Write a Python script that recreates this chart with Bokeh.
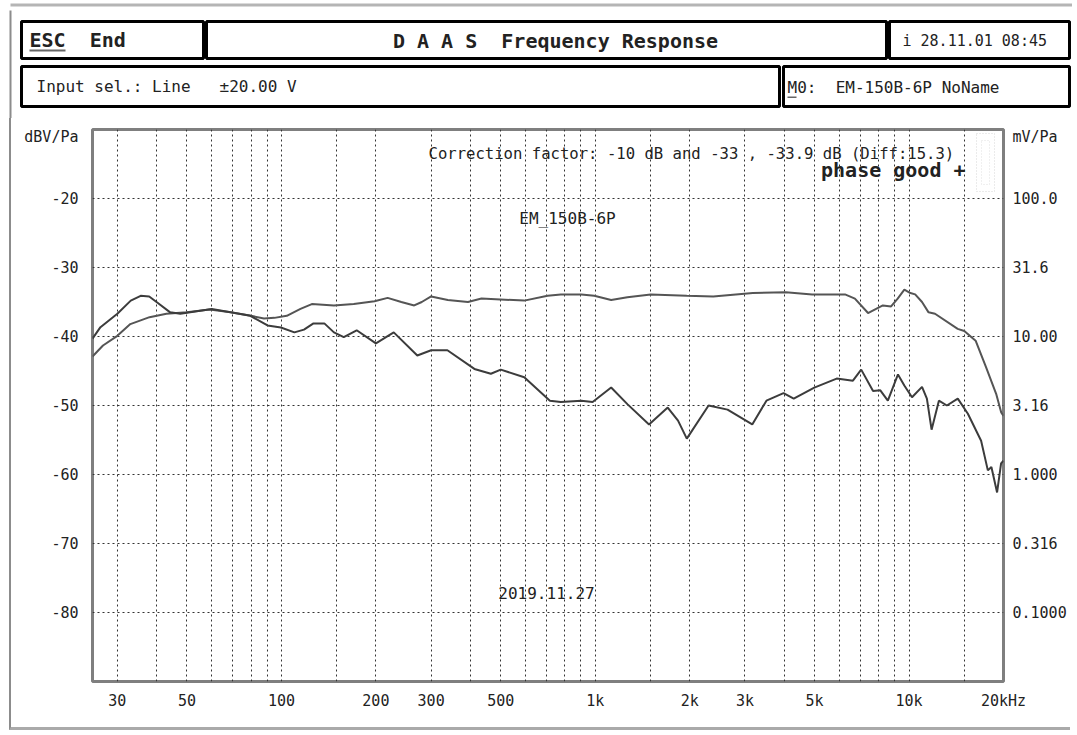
from bokeh.plotting import figure
from bokeh.layouts import column, row
from bokeh.models import FixedTicker, LinearAxis, Label, BoxAnnotation, Range1d
from bokeh.core.properties import value
from bokeh.embed import file_html
from bokeh.resources import INLINE

# ---------------- data ----------------
upper_freq = [25, 27, 30, 33, 38, 43, 50, 59, 69, 80, 88, 95, 104, 115, 125, 147, 170, 198,
              218, 241, 265, 280, 300, 339, 393, 434, 594, 705, 777, 903, 993, 1124, 1266,
              1502, 1958, 2377, 3178, 4048, 4911, 6251, 6722, 7403, 7770, 8253, 8766, 9200,
              9662, 10100, 10460, 11000, 11540, 12100, 14290, 15000, 16300, 17580, 18950,
              19670, 20000]
upper_db = [-42.9, -41.3, -39.9, -38.2, -37.2, -36.7, -36.5, -36.1, -36.5, -37.0, -37.4, -37.3,
            -37.0, -36.0, -35.3, -35.5, -35.3, -34.9, -34.4, -35.0, -35.5, -35.0, -34.2, -34.7,
            -35.0, -34.5, -34.8, -34.1, -33.9, -33.9, -34.1, -34.7, -34.3, -33.9, -34.1, -34.2,
            -33.7, -33.6, -33.9, -33.9, -34.5, -36.6, -36.1, -35.5, -35.65, -34.5, -33.2, -33.7,
            -33.9, -35.0, -36.5, -36.7, -38.9, -39.2, -40.6, -44.4, -48.3, -51.0, -51.5]

lower_freq = [25, 26.5, 30, 33.1, 35.6, 37.9, 40, 44.2, 47.6, 60, 68.8, 79.6, 90.3, 99.6, 110,
              118, 126.5, 137, 147, 158, 173.7, 200, 228, 271, 300, 338, 412, 465, 500, 594,
              717, 777, 903, 981, 1124, 1266, 1484, 1702, 1836, 1958, 2297, 2640, 3165, 3512,
              3981, 4291, 4990, 5880, 6625, 7040, 7680, 8100, 8560, 9220, 9660, 10220, 11000,
              11400, 11800, 12450, 13200, 14300, 15400, 16970, 17830, 18300, 19080, 19650, 20000]
lower_db = [-40.3, -38.65, -36.7, -34.8, -34.1, -34.2, -35.0, -36.5, -36.7, -36.0, -36.5, -37.0,
            -38.4, -38.7, -39.4, -39.0, -38.1, -38.1, -39.4, -40.1, -39.1, -41.0, -39.4, -42.75,
            -42.0, -42.0, -44.7, -45.4, -44.8, -45.9, -49.3, -49.5, -49.3, -49.5, -47.4, -49.8,
            -52.75, -50.3, -52.2, -54.8, -50.0, -50.6, -52.75, -49.3, -48.2, -49.0, -47.4, -46.1,
            -46.4, -44.8, -47.9, -47.8, -49.3, -45.5, -47.1, -48.8, -47.3, -49.0, -53.5, -49.3,
            -50.0, -49.0, -51.2, -55.1, -59.4, -58.9, -62.6, -58.4, -58.0]

x_tick_freqs = [30, 50, 100, 200, 300, 500, 1000, 2000, 3000, 5000, 10000, 20000]
x_tick_labels = ["30", "50", "100", "200", "300", "500", "1k", "2k", "3k", "5k", "10k", "20kHz"]
x_grid_freqs = [30, 40, 50, 60, 70, 80, 90, 100, 150, 200, 300, 400, 500, 600, 700, 800, 900,
                1000, 1500, 2000, 3000, 4000, 5000, 6000, 7000, 8000, 9000, 10000, 15000]
y_ticks = [-20, -30, -40, -50, -60, -70, -80]
y_left_labels = ["-20", "-30", "-40", "-50", "-60", "-70", "-80"]
y_right_labels = ["100.0", "31.6", "10.00", "3.16", "1.000", "0.316", "0.1000"]
unit_left = "dBV/Pa"
unit_right = "mV/Pa"

NB = "\u00a0"
header_left = "ESC" + NB * 2 + "End"
header_title = "D A A S" + NB * 2 + "Frequency Response"
header_date = "i 28.11.01 08:45"
header_input = "Input sel.: Line" + NB * 3 + "\u00b120.00 V"
header_model = "M0:" + NB * 2 + "EM-150B-6P NoName"
note_correction = "Correction factor: -10 dB and -33 , -33.9 dB (Diff:15.3)"
note_phase = "phase good +"
note_name = "EM_150B-6P"
note_date = "2019.11.27"

# ---------------- layout ----------------
TOTAL_W = 1072
HEAD_H, BODY_H = 118, 612
PAGE_LEFT = 9            # page border line position
BORDER_W = 2
BODY_X = PAGE_LEFT + BORDER_W
FX0, FX1, FY0, FY1 = 92, 1003, 129, 681      # frame edges in page pixels
XMIN, XMAX, YMIN, YMAX = 25, 20000, -90, -10
FONT = "DejaVu Sans Mono"
INK = "#222222"
BORDER = "#8c8c8c"

# ---- header ----
head = figure(width=TOTAL_W, height=HEAD_H, x_range=Range1d(0, TOTAL_W),
              y_range=Range1d(HEAD_H, 0), output_backend="svg", toolbar_location=None,
              min_border=0, x_axis_location=None, y_axis_location=None, title=None)
head.outline_line_color = None
head.grid.visible = False
head.background_fill_color = "white"
head.border_fill_color = "white"
head.quad(left=[10], right=[TOTAL_W], top=[3], bottom=[6], fill_color="#b5b5b5", line_color=None)
head.quad(left=[PAGE_LEFT], right=[PAGE_LEFT + BORDER_W], top=[10], bottom=[HEAD_H],
          fill_color=BORDER, line_color=None)
head.quad(left=[21, 206, 889, 21, 783], right=[203, 886, 1069, 779, 1069],
          top=[21, 21, 21, 66, 66], bottom=[58, 58, 58, 106, 106],
          fill_color=None, line_color="black", line_width=3)
head.quad(left=[29, 787], right=[65, 796], top=[49, 96], bottom=[51, 97.5],
          fill_color="#666666", line_color=None)


def htext(x, y, s, size, bold=False, align="left"):
    head.text(x=[x], y=[y], text=[s], text_font=value(FONT), text_font_size=size,
              text_font_style="bold" if bold else "normal", text_align=align,
              text_baseline="middle", text_color=INK)


htext(29, 39.5, header_left, "20px", bold=True)
htext(555, 40, header_title, "20px", bold=True, align="center")
htext(902, 40, header_date, "15px")
htext(36, 86, header_input, "16px")
htext(787, 87, header_model, "16px")

# ---- main chart ----
p = figure(width=TOTAL_W - BODY_X, height=BODY_H, x_axis_type="log", title=None,
           x_range=Range1d(XMIN, XMAX), y_range=Range1d(YMIN, YMAX),
           output_backend="svg", toolbar_location=None,
           min_border_left=FX0 - BODY_X, min_border_right=TOTAL_W - FX1,
           min_border_top=FY0 - HEAD_H, min_border_bottom=HEAD_H + BODY_H - FY1)
p.margin = (0, 0, 0, PAGE_LEFT)
p.styles = {"border-left": f"{BORDER_W}px solid {BORDER}",
            "border-bottom": "3px solid #aaaaaa"}
p.background_fill_color = "white"
p.border_fill_color = "white"
p.outline_line_color = "#7f7f7f"
p.outline_line_width = 3


def hz(px):
    return XMIN * (XMAX / XMIN) ** ((px - FX0) / (FX1 - FX0))


def db(py):
    return YMAX - (py - FY0) * (YMAX - YMIN) / (FY1 - FY0)


# grids
p.xgrid.ticker = FixedTicker(ticks=x_grid_freqs)
p.ygrid.ticker = FixedTicker(ticks=y_ticks)
for g in (p.xgrid, p.ygrid):
    g.grid_line_color = "#333333"
    g.grid_line_dash = "2 3"
    g.grid_line_width = 1
    g.minor_grid_line_color = None

# axes (unit names sit on an extra tick at the top of each y axis)
unit_tick = round(db(137), 3)
p.xaxis.ticker = FixedTicker(ticks=x_tick_freqs, minor_ticks=[])
p.xaxis.major_label_overrides = dict(zip(x_tick_freqs, x_tick_labels))
p.xaxis.major_label_standoff = 10
p.yaxis.ticker = FixedTicker(ticks=[unit_tick] + y_ticks, minor_ticks=[])
p.yaxis.major_label_overrides = dict(zip([unit_tick] + y_ticks, [unit_left] + y_left_labels))
p.yaxis.major_label_standoff = 14

right_axis = LinearAxis(ticker=FixedTicker(ticks=[unit_tick] + y_ticks, minor_ticks=[]),
                        major_label_overrides=dict(zip([unit_tick] + y_ticks,
                                                       [unit_right] + y_right_labels)),
                        major_label_standoff=9)
p.add_layout(right_axis, "right")

for ax in p.xaxis + p.yaxis + [right_axis]:
    ax.axis_line_color = None
    ax.major_tick_line_color = None
    ax.minor_tick_line_color = None
    ax.major_tick_out = 0
    ax.major_tick_in = 0
    ax.major_label_text_font = FONT
    ax.major_label_text_font_size = "15px"
    ax.major_label_text_color = INK

# curves
p.line(upper_freq, upper_db, line_color="#555555", line_width=2)
p.line(lower_freq, lower_db, line_color="#3c3c3c", line_width=2)


def txt(px, py, s, size="16px", bold=False, align="left"):
    p.add_layout(Label(x=hz(px), y=db(py), text=s, text_font=FONT,
                       text_font_size=size, text_font_style="bold" if bold else "normal",
                       text_align=align, text_baseline="middle", text_color=INK))


def box(x0, y0, x1, y1, color, dash):
    p.add_layout(BoxAnnotation(left=hz(x0), right=hz(x1), top=db(y0), bottom=db(y1),
                               fill_color=None, fill_alpha=0.0, line_color=color,
                               line_width=1, line_dash=dash))


txt(428, 153, note_correction, size="15.6px")
txt(965, 169, note_phase, size="20px", bold=True, align="right")
txt(567, 218, note_name, size="16px", align="center")
txt(546, 592, note_date, size="16px", align="center")

# small scale glyph at top right of the frame
box(976, 133, 994, 191, "#777777", "1 2")
box(981, 140, 989, 184, "#999999", "1 2")

layout = column(head, row(p))
open("out.html", "w").write(file_html(layout, INLINE))
